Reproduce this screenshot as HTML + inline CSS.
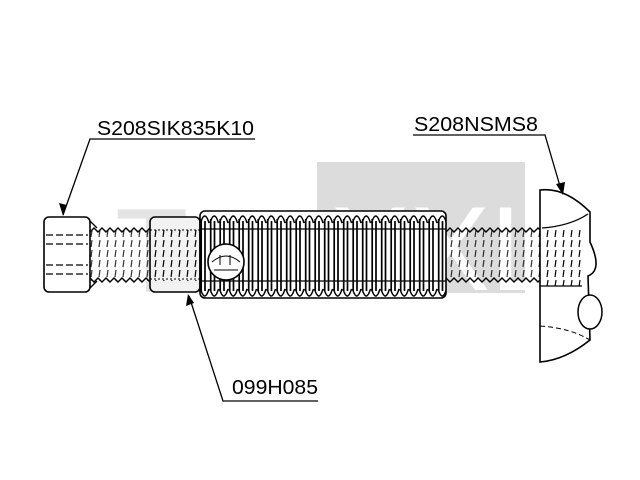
<!DOCTYPE html>
<html><head><style>html,body{margin:0;padding:0;background:#fff}svg{display:block}</style></head><body>
<svg width="640" height="480" viewBox="0 0 640 480" xmlns="http://www.w3.org/2000/svg" font-family="Liberation Sans, sans-serif">
<defs>
<pattern id="vl" x="0" y="0" width="8" height="10" patternUnits="userSpaceOnUse"><line x1="4" y1="0" x2="3" y2="7" stroke="#000" stroke-width="1.2"/></pattern>
<pattern id="rg" x="200" y="211" width="9.5" height="87" patternUnits="userSpaceOnUse"><path d="M1.2,8 V80 M5,10 V80" stroke="#000" stroke-width="1.7" fill="none"/><path d="M0.5,12 Q4.75,-2 9,12" fill="none" stroke="#000" stroke-width="1.5"/><path d="M0.5,78 Q4.75,92 9,78" fill="none" stroke="#000" stroke-width="1.5"/></pattern>
</defs>
<rect width="640" height="480" fill="#fff"/>
<text x="115" y="292" font-size="120" fill="#e4e4e4">Tec</text>
<rect x="317" y="162" width="208" height="131" fill="#dcdcdc"/>
<text x="330" y="290" font-size="120" fill="#fff">XXL</text>
<rect x="90" y="229" width="450" height="52" fill="url(#vl)" opacity="0.8"/>
<path d="M90,232 l4,-4 4,4 4,-4 4,4 4,-4 4,4 4,-4 4,4 4,-4 4,4 4,-4 4,4 4,-4 4,4 4,-4 4,4 4,-4 4,4 4,-4 4,4 4,-4 4,4 4,-4 4,4 4,-4 4,4 4,-4 4,4 4,-4 4,4 4,-4 4,4 4,-4 4,4 4,-4 4,4" fill="none" stroke="#000" stroke-width="1.4"/>
<path d="M90,278 l4,4 4,-4 4,4 4,-4 4,4 4,-4 4,4 4,-4 4,4 4,-4 4,4 4,-4 4,4 4,-4 4,4 4,-4 4,4 4,-4 4,4 4,-4 4,4 4,-4 4,4 4,-4 4,4 4,-4 4,4 4,-4 4,4 4,-4 4,4 4,-4 4,4 4,-4 4,4" fill="none" stroke="#000" stroke-width="1.4"/>
<path d="M446,232 l4,-4 4,4 4,-4 4,4 4,-4 4,4 4,-4 4,4 4,-4 4,4 4,-4 4,4 4,-4 4,4 4,-4 4,4 4,-4 4,4 4,-4 4,4 4,-4 4,4 4,-4 4,4" fill="none" stroke="#000" stroke-width="1.4"/>
<path d="M446,278 l4,4 4,-4 4,4 4,-4 4,4 4,-4 4,4 4,-4 4,4 4,-4 4,4 4,-4 4,4 4,-4 4,4 4,-4 4,4 4,-4 4,4 4,-4 4,4 4,-4 4,4 4,-4 4,4" fill="none" stroke="#000" stroke-width="1.4"/>
<rect x="44" y="217" width="46" height="75" rx="5" fill="#fff" stroke="#000" stroke-width="1.6"/>
<g stroke="#000" stroke-width="1.2" stroke-dasharray="7,3"><line x1="46" y1="235" x2="88" y2="235"/><line x1="46" y1="244" x2="88" y2="244"/><line x1="46" y1="265" x2="88" y2="265"/><line x1="46" y1="274" x2="88" y2="274"/></g>
<path d="M90,221 L97,228 M90,288 L97,281" stroke="#000" stroke-width="1.4"/>
<rect x="150" y="217" width="50" height="75" rx="5" fill="#f2f2f2" stroke="#000" stroke-width="1.6"/>
<rect x="153" y="229" width="44" height="52" fill="url(#vl)"/>
<line x1="150" y1="230" x2="200" y2="230" stroke="#000" stroke-dasharray="2,2"/>
<line x1="150" y1="279" x2="200" y2="279" stroke="#000" stroke-dasharray="2,2"/>
<rect x="200" y="211" width="246" height="87" rx="5" fill="#fff" stroke="#000" stroke-width="1.6"/>
<rect x="200" y="211" width="246" height="87" fill="url(#rg)"/>
<line x1="200" y1="229" x2="446" y2="229" stroke="#000" stroke-width="1.2"/>
<line x1="200" y1="281" x2="446" y2="281" stroke="#000" stroke-width="1.2"/>
<circle cx="226" cy="262" r="18" fill="#fff" stroke="#000" stroke-width="1.6"/>
<path d="M212,262 Q226,250 240,262 M214,270 L238,270 M220,255 v10 M230,255 v10" fill="none" stroke="#000" stroke-width="1"/>
<path d="M540,190 Q565,187 590,212 L590,242 Q603,270 588,276 L590,340 Q565,360 540,362 Z" fill="#fff" stroke="#000" stroke-width="1.6"/>
<path d="M542,228 Q570,226 588,214" fill="none" stroke="#000" stroke-width="1.3"/>
<rect x="542" y="228" width="40" height="58" fill="url(#vl)"/>
<path d="M540,286 L582,286" stroke="#000" stroke-width="1.3"/>
<path d="M540,326 Q570,328 590,340" fill="none" stroke="#000" stroke-dasharray="5,3"/>
<ellipse cx="590" cy="312" rx="12" ry="17" fill="#fff" stroke="#000" stroke-width="1.5"/>
<g font-size="20" fill="#000">
<text x="97" y="135" textLength="157" lengthAdjust="spacingAndGlyphs">S208SIK835K10</text>
<text x="414" y="131" textLength="124" lengthAdjust="spacingAndGlyphs">S208NSMS8</text>
<text x="232" y="394" textLength="86" lengthAdjust="spacingAndGlyphs">099H085</text>
</g>
<g stroke="#000" stroke-width="1.3" fill="none">
<polyline points="255,139 90,139 63,215"/>
<polyline points="413,135 545,135 562,193"/>
<polyline points="318,401 223,401 189,296"/>
</g>
<g fill="#000">
<polygon points="63,216 59,203 67,205"/>
<polygon points="563,195 556,184 565,182"/>
<polygon points="188,294 186,306 194,303"/>
</g>
</svg>
</body></html>
